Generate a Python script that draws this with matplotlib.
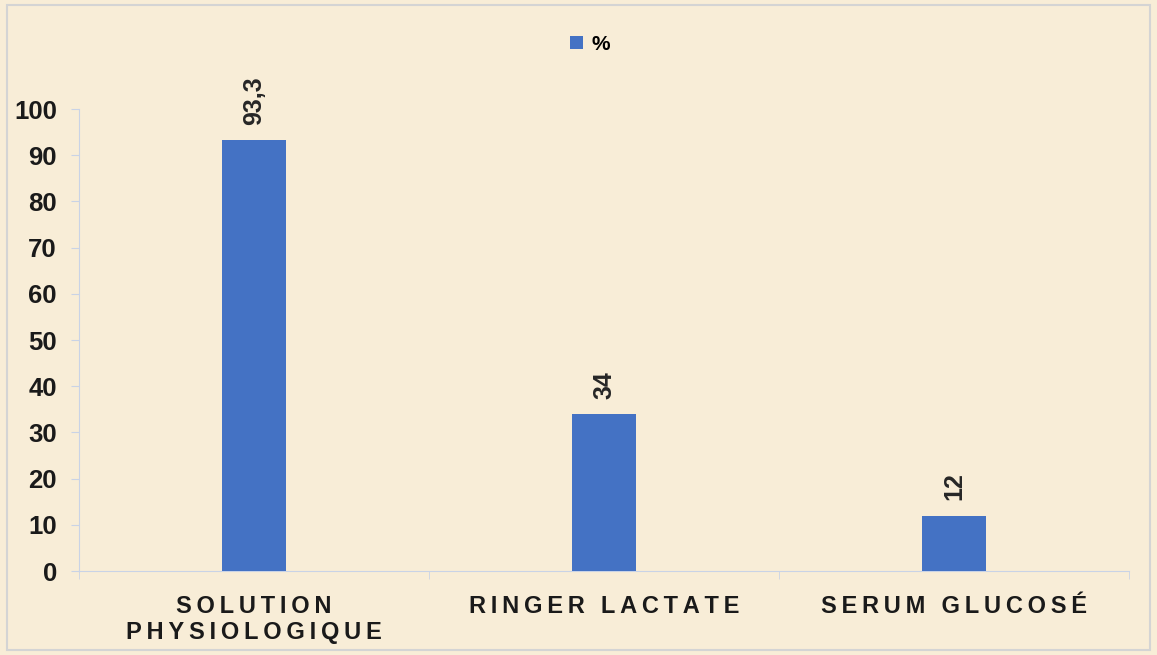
import matplotlib
matplotlib.use("Agg")
import matplotlib.pyplot as plt
from matplotlib.patches import Rectangle

plt.rcParams['font.family'] = ['Liberation Sans', 'DejaVu Sans']

categories = ["SOLUTION\nPHYSIOLOGIQUE", "RINGER LACTATE", "SERUM GLUCOSÉ"]
values = [93.3, 34, 12]
value_labels = ["93,3", "34", "12"]
yticks = [0, 10, 20, 30, 40, 50, 60, 70, 80, 90, 100]

bg = "#F8EDD7"
bar_color = "#4472C4"
axis_color = "#C9D3E6"


def spaced(s):
    # wide letter spacing like the original
    return "\n".join("\u2009".join(line) for line in s.split("\n"))


fig = plt.figure(figsize=(11.57, 6.55), dpi=100)
fig.patch.set_facecolor(bg)
fig.patches.append(Rectangle((0.006, 0.008), 0.988, 0.984, transform=fig.transFigure,
                             fill=False, edgecolor="#D4D4D4", linewidth=1.5))

ax = fig.add_axes([0.0683, 0.1282, 0.9075, 0.7053])
ax.set_facecolor(bg)
x = range(len(categories))
bars = ax.bar(x, values, width=0.183, color=bar_color, label="%", zorder=3)

for b, lab in zip(bars, value_labels):
    ax.annotate(lab, (b.get_x() + b.get_width() / 2, b.get_height()),
                xytext=(0, 11), textcoords="offset points", rotation=90,
                ha="center", va="bottom", fontsize=18, fontweight="bold", color="#262626")

ax.set_xlim(-0.5, 2.5)
ax.set_ylim(0, 100)
ax.set_yticks(yticks)
ax.set_xticks(list(x))
ax.set_xticklabels([spaced(c) for c in categories], fontsize=17, fontweight="bold",
                   color="#1a1a1a", linespacing=1.2)
ax.set_xticks([-0.5, 0.5, 1.5, 2.5], minor=True)
ax.tick_params(axis="x", which="major", length=0, pad=17)
ax.tick_params(axis="x", which="minor", length=6, color=axis_color)
ax.tick_params(axis="y", length=6, color=axis_color, labelsize=18.5, pad=10)
for t in ax.get_yticklabels():
    t.set_fontweight("bold")
    t.set_color("#1a1a1a")

for s in ["top", "right"]:
    ax.spines[s].set_visible(False)
ax.spines["left"].set_color(axis_color)
ax.spines["bottom"].set_color(axis_color)

leg = fig.legend(loc="center", bbox_to_anchor=(0.51, 0.932), frameon=False,
                 handlelength=0.6, handleheight=0.6, handletextpad=0.4,
                 prop={"weight": "bold", "size": 15})

fig.savefig("out.png", dpi=100, facecolor=bg)
